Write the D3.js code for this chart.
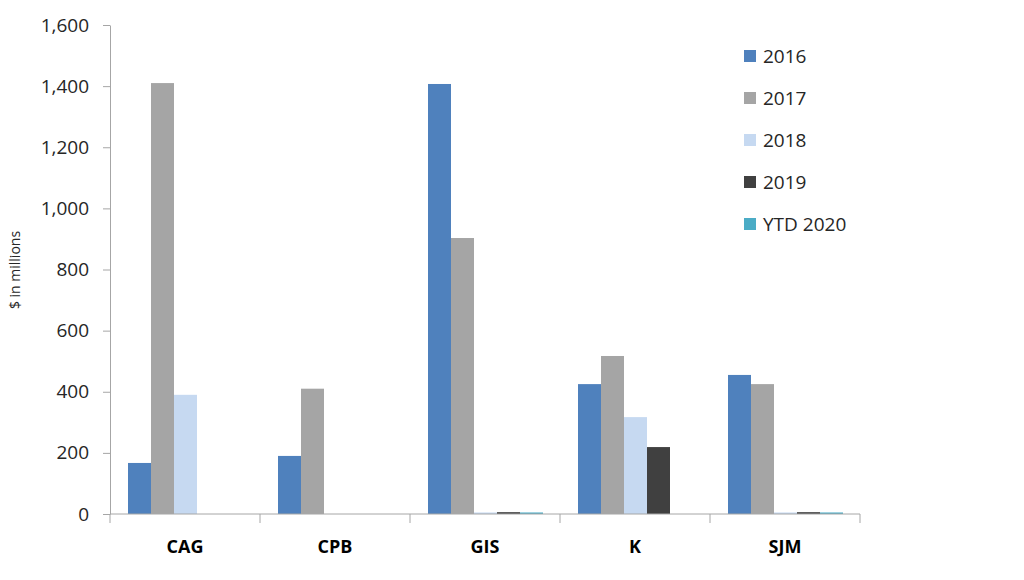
<!DOCTYPE html>
<html>
<head>
<meta charset="utf-8">
<script src="https://cdn.jsdelivr.net/npm/d3@7"></script>
<style>
  body { margin: 0; background: #fff; }
  text { font-family: "Open Sans", "Liberation Sans", sans-serif; fill: #262626; }
</style>
</head>
<body>
<div class="chart"></div>
<script>
// data
var companies = ["CAG", "CPB", "GIS", "K", "SJM"];
var seriesNames = ["2016", "2017", "2018", "2019", "YTD 2020"];
var v2016 = [167, 190, 1407, 425, 455];
var v2017 = [1410, 410, 903, 517, 425];
var v2018 = [390, 0, 5, 317, 5];
var v2019 = [0, 0, 6, 219, 6];
var vYtd2020 = [0, 0, 5, 0, 5];
var yTicks = [0, 200, 400, 600, 800, 1000, 1200, 1400, 1600];

var seriesValues = [v2016, v2017, v2018, v2019, vYtd2020];
var colors = ["#4F81BD", "#A5A5A5", "#C6D9F1", "#404040", "#4BACC6"];

var w = 1024;
var h = 580;
var plotLeft = 110, plotRight = 860, plotTop = 25, plotBottom = 514;

var svg = d3.select(".chart")
  .append("svg")
  .attr("width", w)
  .attr("height", h);

var x0 = d3.scaleBand()
  .domain(companies)
  .range([plotLeft, plotRight]);

var x1 = d3.scaleBand()
  .domain(seriesNames)
  .range([18, x0.bandwidth() - 17]);

var y = d3.scaleLinear()
  .domain([0, 1600])
  .range([plotBottom, plotTop]);

// bars
var groups = svg.selectAll("g.company")
  .data(companies)
  .enter()
  .append("g")
  .attr("class", "company")
  .attr("transform", function(d) { return "translate(" + x0(d) + ",0)"; });

groups.selectAll("rect")
  .data(function(d, i) {
    return seriesNames.map(function(s, j) {
      return { series: s, value: seriesValues[j][i], color: colors[j] };
    }).filter(function(b) { return b.value > 0; });
  })
  .enter()
  .append("rect")
  .attr("x", function(d) { return x1(d.series); })
  .attr("y", function(d) { return y(d.value); })
  .attr("width", x1.bandwidth())
  .attr("height", function(d) { return plotBottom - y(d.value); })
  .attr("fill", function(d) { return d.color; });

// y axis
var yAxis = svg.append("g")
  .attr("transform", "translate(" + plotLeft + ",0)")
  .call(d3.axisLeft(y).tickValues(yTicks).tickSize(7).tickPadding(14)
    .tickFormat(d3.format(",")).tickSizeOuter(0));
yAxis.select(".domain").attr("stroke", "#A6A6A6");
yAxis.selectAll(".tick line").attr("stroke", "#A6A6A6");
yAxis.selectAll(".tick text")
  .style("font-size", "19px")
  .attr("fill", "#262626");

// x axis with ticks at category boundaries
svg.append("line")
  .attr("x1", plotLeft).attr("x2", plotRight)
  .attr("y1", plotBottom).attr("y2", plotBottom)
  .attr("stroke", "#A6A6A6");

var boundaries = companies.map(function(d) { return x0(d); }).concat([plotRight]);
svg.selectAll("line.xtick")
  .data(boundaries)
  .enter()
  .append("line")
  .attr("class", "xtick")
  .attr("x1", function(d) { return d; })
  .attr("x2", function(d) { return d; })
  .attr("y1", plotBottom)
  .attr("y2", plotBottom + 9)
  .attr("stroke", "#A6A6A6");

svg.selectAll("text.xlabel")
  .data(companies)
  .enter()
  .append("text")
  .attr("class", "xlabel")
  .attr("x", function(d) { return x0(d) + x0.bandwidth() / 2; })
  .attr("y", 553)
  .attr("text-anchor", "middle")
  .style("font-size", "18px")
  .style("font-weight", "bold")
  .style("fill", "#000")
  .text(function(d) { return d; });

// y axis title
svg.append("text")
  .attr("transform", "translate(20,270) rotate(-90)")
  .attr("text-anchor", "middle")
  .style("font-size", "14px")
  .text("$ in millions");

// legend
var legend = svg.selectAll("g.legend")
  .data(seriesNames)
  .enter()
  .append("g")
  .attr("class", "legend")
  .attr("transform", function(d, i) { return "translate(744," + (56 + i * 42) + ")"; });

legend.append("rect")
  .attr("x", 0)
  .attr("y", -6)
  .attr("width", 12)
  .attr("height", 12)
  .attr("fill", function(d, i) { return colors[i]; });

legend.append("text")
  .attr("x", 19)
  .attr("y", 0)
  .attr("dy", "0.35em")
  .style("font-size", "19px")
  .text(function(d) { return d; });
</script>
</body>
</html>
